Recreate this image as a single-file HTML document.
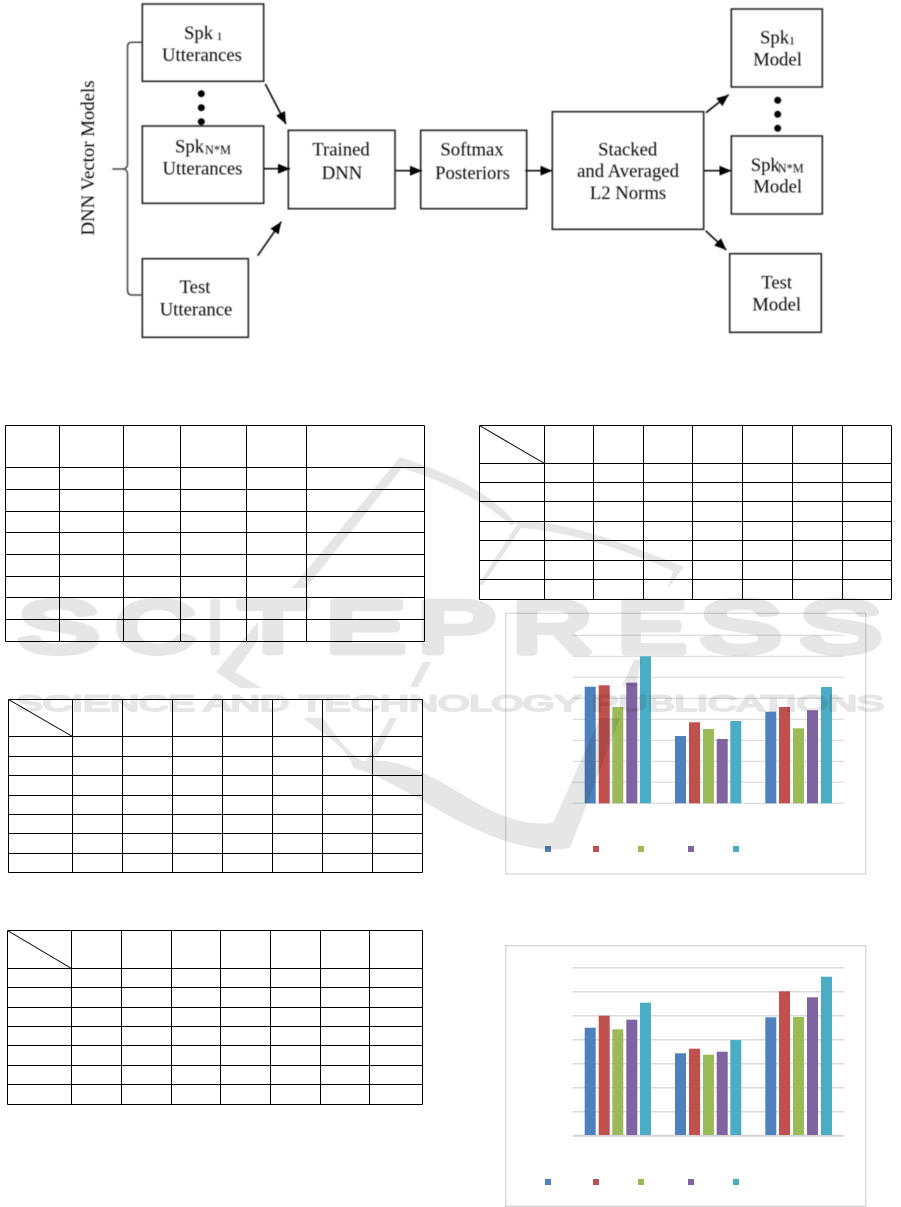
<!DOCTYPE html>
<html><head><meta charset="utf-8"><style>
html,body{margin:0;padding:0;background:#fff;width:901px;height:1207px;overflow:hidden}
svg{display:block}
text{font-family:"Liberation Serif",serif}
.w text{font-family:"Liberation Sans",sans-serif;font-weight:normal;fill:#e5e6e5;stroke:#e5e6e5;stroke-linejoin:round}
</style></head><body>
<svg width="901" height="1207" viewBox="0 0 901 1207" xmlns="http://www.w3.org/2000/svg">
<defs><marker id="a" markerUnits="userSpaceOnUse" markerWidth="13" markerHeight="11" refX="12" refY="5" orient="auto"><path d="M0,0 L12,5 L0,10 Z" fill="#000"/></marker></defs>
<rect width="901" height="1207" fill="#fff"/>

<g style="filter:blur(0.4px)">
<g fill="#fff" stroke="#262626" stroke-width="1.6">
<rect x="142.3" y="4" width="121.4" height="77.3"/>
<rect x="142.3" y="126" width="121.4" height="77.3"/>
<rect x="142.3" y="258.7" width="106" height="78.6"/>
<rect x="288.3" y="130.3" width="106.7" height="78.4"/>
<rect x="420.7" y="130.3" width="106" height="78.4"/>
<rect x="552.3" y="111.7" width="151.4" height="117.6"/>
<rect x="731.3" y="9" width="91" height="78"/>
<rect x="731.3" y="136" width="91" height="78"/>
<rect x="729.7" y="253.7" width="91.6" height="78.6"/>
</g>
<path d="M142.3,42.3 H132 Q127.5,42.3 127.5,47 V164 Q127.5,168.5 123,169 H112.3 H123 Q127.5,169.5 127.5,174 V290 Q127.5,295 132,295 H142.3" fill="none" stroke="#444" stroke-width="1.5"/>
<g fill="#000">
<circle cx="201.3" cy="93.7" r="3.5"/><circle cx="201.3" cy="107.7" r="3.5"/><circle cx="201.3" cy="121.7" r="3.5"/>
<circle cx="777.7" cy="100.3" r="3.5"/><circle cx="777.7" cy="114.3" r="3.5"/><circle cx="777.7" cy="128.3" r="3.5"/>
</g>
<g stroke="#111" stroke-width="1.7" fill="none">
<path d="M265.3,84 L286,124" marker-end="url(#a)"/>
<path d="M263.7,168.7 L290,168.7" marker-end="url(#a)"/>
<path d="M257.7,255.7 L281.3,221.7" marker-end="url(#a)"/>
<path d="M395,170.7 L422,170.7" marker-end="url(#a)"/>
<path d="M525.3,170.7 L552.3,170.7" marker-end="url(#a)"/>
<path d="M706,112.7 L728.7,94.7" marker-end="url(#a)"/>
<path d="M704,170.7 L731.3,170.7" marker-end="url(#a)"/>
<path d="M705.7,230.7 L726.3,250" marker-end="url(#a)"/>
</g>
<g font-size="18.7" fill="#0a0a0a" text-anchor="middle">
<text x="184" y="39" text-anchor="start">Spk</text>
<text x="216.5" y="40" font-size="12" text-anchor="start">1</text>
<text x="202" y="61">Utterances</text>
<text x="175" y="152.7" text-anchor="start">Spk</text>
<text x="205" y="154" font-size="12.3" text-anchor="start">N*M</text>
<text x="202.5" y="174.7">Utterances</text>
<text x="195" y="293">Test</text>
<text x="196" y="315.7">Utterance</text>
<text x="341" y="155.7">Trained</text>
<text x="342" y="179">DNN</text>
<text x="472" y="155.7">Softmax</text>
<text x="472.5" y="179">Posteriors</text>
<text x="627.7" y="155.7">Stacked</text>
<text x="628" y="177">and Averaged</text>
<text x="628" y="199">L2 Norms</text>
<text x="760" y="43.3" text-anchor="start">Spk</text>
<text x="789" y="44.5" font-size="12" text-anchor="start">1</text>
<text x="777.5" y="65.3">Model</text>
<text x="750.7" y="171" text-anchor="start">Spk</text>
<text x="777.7" y="172.5" font-size="12.3" text-anchor="start">N*M</text>
<text x="777.7" y="192.7">Model</text>
<text x="776.7" y="288.7">Test</text>
<text x="776.7" y="310.7">Model</text>
<text x="0" y="0" font-size="18.8" transform="translate(94,158) rotate(-90)">DNN Vector Models</text>
</g>
</g>

<g fill="none" stroke="#000" stroke-width="1" shape-rendering="crispEdges">
<path d="M5.5,425.5H424.5M5.5,467.5H424.5M5.5,489.5H424.5M5.5,511.5H424.5M5.5,532.5H424.5M5.5,554.5H424.5M5.5,576.5H424.5M5.5,597.5H424.5M5.5,619.5H424.5M5.5,641.5H424.5M5.5,425.5V641.5M59.5,425.5V641.5M123.5,425.5V641.5M180.5,425.5V641.5M246.5,425.5V641.5M306.5,425.5V641.5M424.5,425.5V641.5"/>
<path d="M479.5,425.5H891.5M479.5,463.5H891.5M479.5,482.5H891.5M479.5,501.5H891.5M479.5,521.5H891.5M479.5,540.5H891.5M479.5,560.5H891.5M479.5,579.5H891.5M479.5,599.5H891.5M479.5,425.5V599.5M544.5,425.5V599.5M593.5,425.5V599.5M643.5,425.5V599.5M692.5,425.5V599.5M742.5,425.5V599.5M792.5,425.5V599.5M842.5,425.5V599.5M891.5,425.5V599.5"/>
<path d="M8.5,699.5H422.5M8.5,736.5H422.5M8.5,756.5H422.5M8.5,775.5H422.5M8.5,795.5H422.5M8.5,814.5H422.5M8.5,833.5H422.5M8.5,853.5H422.5M8.5,872.5H422.5M8.5,699.5V872.5M72.5,699.5V872.5M122.5,699.5V872.5M172.5,699.5V872.5M222.5,699.5V872.5M272.5,699.5V872.5M322.5,699.5V872.5M372.5,699.5V872.5M422.5,699.5V872.5"/>
<path d="M7.5,930.5H422.5M7.5,968.5H422.5M7.5,987.5H422.5M7.5,1007.5H422.5M7.5,1026.5H422.5M7.5,1045.5H422.5M7.5,1065.5H422.5M7.5,1084.5H422.5M7.5,1104.5H422.5M7.5,930.5V1104.5M71.5,930.5V1104.5M121.5,930.5V1104.5M171.5,930.5V1104.5M220.5,930.5V1104.5M270.5,930.5V1104.5M320.5,930.5V1104.5M369.5,930.5V1104.5M422.5,930.5V1104.5"/>
</g>
<g stroke="#000" stroke-width="1" fill="none">
<path d="M479.5,425.5L544.5,463.5"/>
<path d="M8.5,699.5L72.5,736.5"/>
<path d="M7.5,930.5L71.5,968.5"/>
</g>

<!-- chart 1 -->
<g style="filter:blur(0.3px)">
<rect x="505.7" y="613.3" width="360" height="260.7" fill="none" stroke="#d6d6d6" stroke-width="1.2"/>
<path d="M573,635.3H843.7M573,656.3H843.7M573,677.3H843.7M573,698.3H843.7M573,719.3H843.7M573,740.3H843.7M573,761.3H843.7M573,782.3H843.7M573,803.3H843.7" stroke="#d9d9d9" stroke-width="1.1" fill="none"/>
<g fill="#4f81bd"><rect x="584.7" y="686.7" width="11" height="116.6"/><rect x="675" y="736" width="11" height="67.3"/><rect x="765.3" y="711.7" width="11" height="91.6"/></g>
<g fill="#c0504d"><rect x="598.7" y="685.3" width="11" height="118"/><rect x="689" y="722.3" width="11" height="81"/><rect x="779" y="707" width="11" height="96.3"/></g>
<g fill="#9bbb59"><rect x="612.3" y="707" width="11" height="96.3"/><rect x="703" y="729" width="11" height="74.3"/><rect x="793" y="728.3" width="11" height="75"/></g>
<g fill="#8064a2"><rect x="626.3" y="682.7" width="11" height="120.6"/><rect x="716.7" y="739" width="11" height="64.3"/><rect x="807" y="710.3" width="11" height="93"/></g>
<g fill="#4bacc6"><rect x="640" y="656.3" width="11" height="147"/><rect x="730.3" y="721" width="11" height="82.3"/><rect x="821" y="687" width="11" height="116.3"/></g>
<rect x="545" y="846" width="6" height="6" fill="#4f81bd"/><rect x="593" y="846" width="6" height="6" fill="#c0504d"/><rect x="638" y="846" width="6" height="6" fill="#9bbb59"/><rect x="688" y="846" width="6" height="6" fill="#8064a2"/><rect x="733" y="846" width="6" height="6" fill="#4bacc6"/>
</g>

<!-- chart 2 -->
<g style="filter:blur(0.3px)">
<rect x="505.7" y="945.7" width="360" height="260.6" fill="none" stroke="#d6d6d6" stroke-width="1.4"/>
<path d="M573,967.7H843.7M573,991.7H843.7M573,1015.7H843.7M573,1039.7H843.7M573,1063.7H843.7M573,1087.7H843.7M573,1111.7H843.7" stroke="#d9d9d9" stroke-width="1.5" fill="none"/>
<path d="M573,1135.7H843.7" stroke="#d4d4d4" stroke-width="2" fill="none"/>
<g fill="#4f81bd"><rect x="584.7" y="1027.7" width="11" height="107.3"/><rect x="675" y="1053.3" width="11" height="81.7"/><rect x="765.3" y="1017.3" width="11" height="117.7"/></g>
<g fill="#c0504d"><rect x="598.7" y="1015.7" width="11" height="119.3"/><rect x="689" y="1048.7" width="11" height="86.3"/><rect x="779" y="991.3" width="11" height="143.7"/></g>
<g fill="#9bbb59"><rect x="612.3" y="1029.3" width="11" height="105.7"/><rect x="703" y="1054.7" width="11" height="80.3"/><rect x="793" y="1017" width="11" height="118"/></g>
<g fill="#8064a2"><rect x="626.3" y="1019.7" width="11" height="115.3"/><rect x="716.7" y="1051.7" width="11" height="83.3"/><rect x="807" y="997.3" width="11" height="137.7"/></g>
<g fill="#4bacc6"><rect x="640" y="1002.7" width="11" height="132.3"/><rect x="730.3" y="1040" width="11" height="95"/><rect x="821" y="976.7" width="11" height="158.3"/></g>
<rect x="545" y="1179" width="6" height="6" fill="#4f81bd"/><rect x="593" y="1179" width="6" height="6" fill="#c0504d"/><rect x="638" y="1179" width="6" height="6" fill="#9bbb59"/><rect x="688" y="1179" width="6" height="6" fill="#8064a2"/><rect x="733" y="1179" width="6" height="6" fill="#4bacc6"/>
</g>

<!-- watermark -->
<g class="w" style="mix-blend-mode:multiply">
<g font-size="72" stroke-width="7">
<text x="18" y="652" textLength="81" lengthAdjust="spacingAndGlyphs">S</text>
<text x="116" y="652" textLength="79" lengthAdjust="spacingAndGlyphs">C</text>
<text x="208" y="652" textLength="14" lengthAdjust="spacingAndGlyphs">I</text>
<text x="239" y="652" textLength="68" lengthAdjust="spacingAndGlyphs">T</text>
<text x="326" y="652" textLength="79" lengthAdjust="spacingAndGlyphs">E</text>
<text x="418" y="652" textLength="78" lengthAdjust="spacingAndGlyphs">P</text>
<text x="513" y="652" textLength="79" lengthAdjust="spacingAndGlyphs">R</text>
<text x="618" y="652" textLength="68" lengthAdjust="spacingAndGlyphs">E</text>
<text x="700" y="652" textLength="81" lengthAdjust="spacingAndGlyphs">S</text>
<text x="800" y="652" textLength="81" lengthAdjust="spacingAndGlyphs">S</text>
</g>
<text x="16" y="711" font-size="22" stroke-width="2" textLength="868" lengthAdjust="spacingAndGlyphs">SCIENCE AND TECHNOLOGY PUBLICATIONS</text>
<g fill="#e5e6e5">
<path d="M292,588 L400,457 C440,470 490,490 516,524 L511,525 C480,498 440,480 402,468 L306,588 Z"/>
<path d="M516,526 L521,528 L483,585 L478,585 Z"/>
<path d="M516,522 C560,518 630,545 684,567 L668,588 L673,571 C620,548 565,530 518,528 Z"/>
<path d="M258,622 L258,640 L235,672 L262,688 L240,688 L216,672 Z"/>
<path d="M303,718 L323,718 C335,735 350,755 362,761 C410,755 450,790 490,810 C515,822 535,825 553,823 L600,718 L620,718 L570,848 C530,855 480,835 430,805 C395,785 370,772 353,768 C350,750 325,735 303,718 Z"/>
<path d="M390,718 L397,718 L374,762 L366,760 Z"/>
<path d="M634,660 L641,660 L636,686 L622,686 Z"/>
<path d="M431,662 L423,662 L410,687 L418,687 Z"/>
<path d="M437,641 L445,641 L438,654 Z"/>
</g>
</g>
</svg>
</body></html>
